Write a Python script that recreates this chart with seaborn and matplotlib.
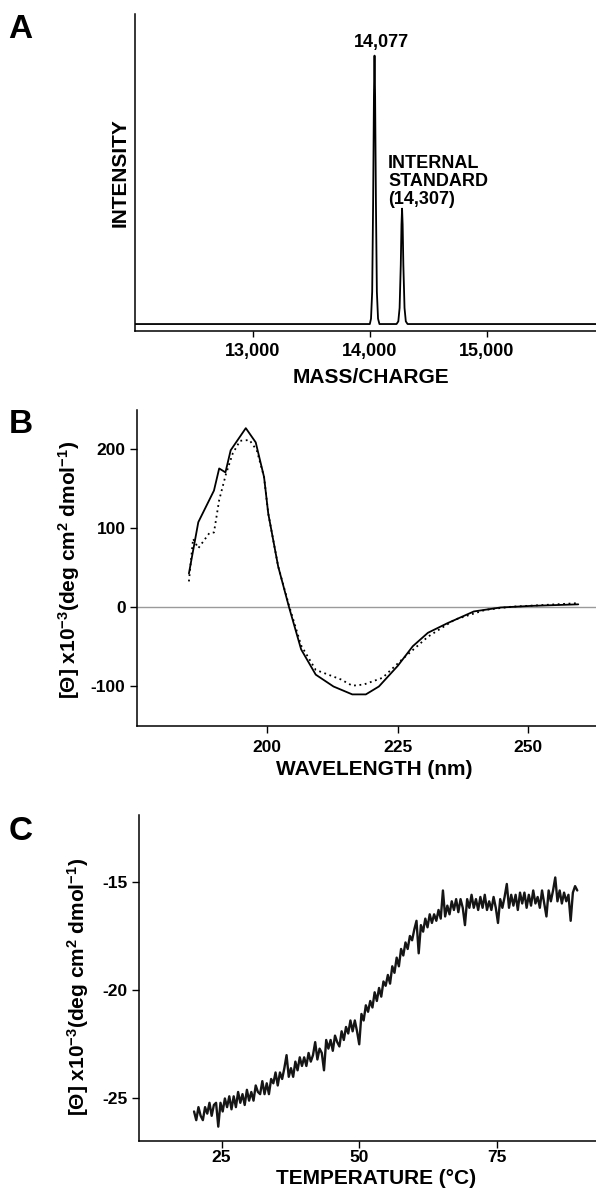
import numpy as np
import pandas as pd
import seaborn as sns
from matplotlib import pyplot as plt

# ---- A: mass spectrum (mass/charge vs intensity, % of main peak)
mass = [12000, 14000, 14010, 14020, 14028, 14035, 14040, 14045, 14052, 14060,
        14070, 14082, 14228, 14243, 14254, 14264, 14270, 14275, 14280, 14286,
        14296, 14307, 14322, 15930]
intensity = [0, 0, 2, 12, 45, 85, 100, 85, 45, 12,
             2, 0, 0, 1, 6, 22, 37, 43, 37, 22,
             6, 1, 0, 0]
mass_ticks = [13000, 14000, 15000]
peak_label = "14,077"
standard_label = ["INTERNAL", "STANDARD", "(14,307)"]

# ---- B: far-UV CD spectra (nm vs mean residue ellipticity x10^-3)
wl_solid = [185.0, 186.8, 189.8, 190.8, 192.0, 193.0, 195.9, 197.8, 199.4, 200.2,
            202.1, 204.2, 206.5, 209.3, 212.7, 216.3, 218.9, 221.4, 225.0, 227.9,
            230.8, 234.5, 239.6, 244.7, 250.5, 259.6]
cd_solid = [43, 108, 148, 176, 171, 199, 227, 209, 165, 119,
            52, 0, -53, -85, -100, -110, -110, -100, -74, -49,
            -32, -20, -5, 0, 2, 4]
wl_dotted = [185.0, 185.8, 186.8, 188.9, 189.8, 190.8, 192.1, 193.4, 194.8, 196.6,
             198.0, 199.4, 200.2, 202.1, 204.2, 206.5, 209.3, 214.1, 216.3, 218.5,
             222.1, 225.8, 230.8, 235.9, 241.8, 246.8, 259.6]
cd_dotted = [33, 87, 75, 94, 95, 136, 169, 195, 211, 212,
             199, 165, 119, 52, 2, -48, -79, -91, -99, -97.5,
             -89, -66, -37, -15.5, -3, 1, 5.5]
wl_ticks = [200, 225, 250]
cd_ticks = [-100, 0, 100, 200]

# ---- C: thermal melt at 0.4 degC steps from 20 degC
temp_first, temp_step = 20.0, 0.4
theta_melt = [
    -25.6, -26.0, -25.4, -25.8, -26.0, -25.4, -25.7, -25.2, -25.8, -25.3,
    -25.2, -26.3, -25.2, -25.6, -25.0, -25.4, -24.9, -25.5, -24.9, -25.4,
    -24.7, -25.2, -24.8, -25.3, -24.6, -25.1, -24.7, -25.1, -24.4, -24.7,
    -24.8, -24.2, -24.8, -24.3, -24.8, -24.1, -24.3, -23.8, -24.4, -23.8,
    -24.1, -23.6, -23.0, -24.0, -23.6, -24.0, -23.3, -23.7, -23.1, -23.5,
    -23.1, -23.5, -22.9, -23.3, -23.0, -22.4, -23.2, -22.7, -22.9, -23.7,
    -22.3, -22.7, -22.3, -22.8, -22.1, -22.4, -22.6, -21.9, -22.3, -21.7,
    -22.0, -21.4, -21.9, -21.4, -21.9, -22.5, -21.1, -21.4, -20.7, -21.0,
    -20.5, -20.8, -20.1, -20.5, -19.9, -20.3, -19.6, -19.8, -19.3, -19.7,
    -18.9, -19.2, -18.5, -18.9, -18.1, -18.4, -17.8, -18.1, -17.5, -17.7,
    -17.2, -16.8, -18.3, -17.0, -17.3, -16.7, -17.1, -16.5, -16.9, -16.5,
    -16.8, -16.3, -16.7, -15.4, -16.6, -16.1, -16.5, -15.9, -16.3, -15.8,
    -16.4, -15.8, -16.2, -17.0, -15.8, -16.2, -15.6, -16.2, -15.8, -16.3,
    -15.7, -16.2, -15.6, -16.3, -15.9, -16.3, -15.7, -16.2, -16.9, -15.8,
    -16.2, -15.7, -15.1, -16.2, -15.6, -16.1, -15.6, -16.3, -15.5, -16.0,
    -15.5, -16.2, -15.6, -16.1, -15.4, -16.0, -15.7, -16.2, -15.4, -16.0,
    -16.6, -15.4, -15.9, -15.4, -14.8, -15.9, -15.4, -16.0, -15.5, -15.9,
    -15.6, -16.8, -15.5, -15.2, -15.4,
]
temp_ticks = [25, 50, 75]
theta_ticks = [-25, -20, -15]

theta_label = r"[Θ] x10$^{-3}$(deg cm$^{2}$ dmol$^{-1}$)"

sns.set_theme(style="ticks", rc={
    "axes.edgecolor": "black", "axes.linewidth": 1.1,
    "xtick.color": "black", "ytick.color": "black",
    "text.color": "black", "axes.labelcolor": "black",
    "xtick.major.width": 1.0, "ytick.major.width": 1.0,
    "axes.unicode_minus": False,
})
plt.rcParams["font.family"] = ["Liberation Sans", "DejaVu Sans"]
plt.rcParams["font.weight"] = "bold"
plt.rcParams["axes.labelweight"] = "bold"
plt.rcParams["mathtext.fontset"] = "custom"
plt.rcParams["mathtext.rm"] = "Liberation Sans:bold"
plt.rcParams["mathtext.it"] = "Liberation Sans:bold"
plt.rcParams["mathtext.bf"] = "Liberation Sans:bold"
plt.rcParams["mathtext.default"] = "rm"

fig = plt.figure(figsize=(5.96, 11.89), dpi=100)
ax_a = fig.add_axes([0.2273, 0.7216, 0.7727, 0.2666])
ax_b = fig.add_axes([0.2294, 0.3894, 0.7706, 0.2658])
ax_c = fig.add_axes([0.2332, 0.0406, 0.7668, 0.2739])

for ax in (ax_a, ax_b, ax_c):
    sns.despine(ax=ax)

# A
spec = pd.DataFrame({"mass": mass, "intensity": intensity})
sns.lineplot(data=spec, x="mass", y="intensity", ax=ax_a, color="black",
             linewidth=1.3, estimator=None, sort=False)
ax_a.set_xlim(12000, 15930)
ax_a.set_ylim(-2.6, 115.5)
ax_a.set_yticks([])
ax_a.set_xticks(mass_ticks)
ax_a.set_xticklabels([f"{m:,}" for m in mass_ticks])
ax_a.tick_params(axis="x", length=4.3, pad=4.5, labelsize=13)
ax_a.set_xlabel("MASS/CHARGE", fontsize=15)
ax_a.set_ylabel("INTENSITY", fontsize=15)
ax_a.xaxis.set_label_coords(0.511, -0.117)
ax_a.yaxis.set_label_coords(-0.013, 0.50)
ax_a.text(14100, 103.2, peak_label, ha="center", va="baseline", fontsize=13)
for i, line in enumerate(standard_label):
    ax_a.text(14156, 57.96 - 6.71 * i, line, ha="left", va="baseline", fontsize=13)

# B
ax_b.axhline(0, color="#9a9a9a", linewidth=1.0, zorder=1)
sns.lineplot(x=wl_solid, y=cd_solid, ax=ax_b, color="black", linewidth=1.3,
             estimator=None, sort=False)
sns.lineplot(x=wl_dotted, y=cd_dotted, ax=ax_b, color="black", linewidth=1.3,
             linestyle=(0, (1, 2)), estimator=None, sort=False)
ax_b.set_xlim(175, 263)
ax_b.set_ylim(-150, 250)
ax_b.set_xticks(wl_ticks)
ax_b.set_yticks(cd_ticks)
ax_b.tick_params(length=5, labelsize=12.5)
ax_b.tick_params(axis="x", pad=5)
ax_b.tick_params(axis="y", pad=3)
ax_b.set_xlabel("WAVELENGTH (nm)", fontsize=15)
ax_b.set_ylabel(theta_label, fontsize=15)
ax_b.xaxis.set_label_coords(0.517, -0.108)
ax_b.yaxis.set_label_coords(-0.119, 0.494)

# C
temperature = np.round(temp_first + temp_step * np.arange(len(theta_melt)), 1)
melt = pd.DataFrame({"temp": temperature, "theta": theta_melt})
sns.lineplot(data=melt, x="temp", y="theta", ax=ax_c, color="#151515",
             linewidth=1.7, estimator=None, sort=False)
ax_c.set_xlim(10, 93)
ax_c.set_ylim(-26.95, -11.92)
ax_c.set_xticks(temp_ticks)
ax_c.set_yticks(theta_ticks)
ax_c.tick_params(length=5, labelsize=12.5)
ax_c.tick_params(axis="x", pad=2)
ax_c.tick_params(axis="y", pad=3)
ax_c.set_xlabel("TEMPERATURE (°C)", fontsize=15)
ax_c.set_ylabel(theta_label, fontsize=15)
ax_c.xaxis.set_label_coords(0.519, -0.087)
ax_c.yaxis.set_label_coords(-0.105, 0.473)

# panel letters
for letter, x, y in (("A", 8, 38), ("B", 9, 433), ("C", 9, 840)):
    fig.text(x / 596, 1 - y / 1189, letter, fontsize=24, ha="left",
             va="baseline")

fig.savefig("out.png", dpi=100)
